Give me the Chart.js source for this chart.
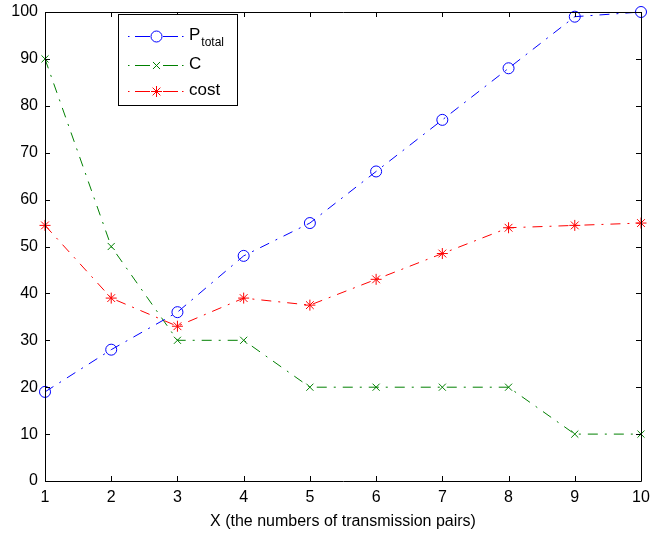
<!DOCTYPE html>
<html>
<head>
<meta charset="utf-8">
<script src="https://cdn.jsdelivr.net/npm/chart.js@4/dist/chart.umd.min.js"></script>
<style>
  html, body { margin: 0; padding: 0; background: #fff; }
  #wrap { width: 653px; height: 536px; }
</style>
</head>
<body>
<div id="wrap"><canvas id="c" width="653" height="536"></canvas></div>
<script>
// Number of transmission pairs
const pairs = [1, 2, 3, 4, 5, 6, 7, 8, 9, 10];
// Series values
const pTotal = [19, 28, 36, 48, 55, 66, 77, 88, 99, 100];
const cValues = [90, 50, 30, 30, 20, 20, 20, 20, 10, 10];
const costValues = [54.5, 39, 33, 39, 37.5, 43, 48.5, 54, 54.5, 55];
// Axis tick values
const xTicks = [1, 2, 3, 4, 5, 6, 7, 8, 9, 10];
const yTicks = [0, 10, 20, 30, 40, 50, 60, 70, 80, 90, 100];

const FONT = '"Liberation Sans", Arial, Helvetica, sans-serif';
const DASH_DOT = [10, 7, 2, 7];

const toPoints = vals => pairs.map((x, i) => ({ x, y: vals[i] }));

const series = [
  { label: 'P', sub: 'total', data: toPoints(pTotal), color: '#0000ff', style: 'circle', radius: 5.5 },
  { label: 'C', sub: '', data: toPoints(cValues), color: '#008000', style: 'crossRot', radius: 5 },
  { label: 'cost', sub: '', data: toPoints(costValues), color: '#ff0000', style: 'star', radius: 5.5 }
];

// Box around the axes with inward-pointing ticks on all four sides
const boxTicks = {
  id: 'boxTicks',
  afterDatasetsDraw(chart) {
    const { ctx, chartArea: a, scales: { x, y } } = chart;
    ctx.save();
    ctx.strokeStyle = '#000';
    ctx.lineWidth = 1;
    ctx.setLineDash([]);
    ctx.beginPath();
    ctx.rect(Math.round(a.left) + 0.5, Math.round(a.top) + 0.5,
             Math.round(a.right - a.left), Math.round(a.bottom - a.top));
    ctx.stroke();
    const tl = 5;
    ctx.beginPath();
    xTicks.forEach(v => {
      const px = Math.round(x.getPixelForValue(v)) + 0.5;
      ctx.moveTo(px, a.bottom); ctx.lineTo(px, a.bottom - tl);
      ctx.moveTo(px, a.top); ctx.lineTo(px, a.top + tl);
    });
    yTicks.forEach(v => {
      const py = Math.round(y.getPixelForValue(v)) + 0.5;
      ctx.moveTo(a.left, py); ctx.lineTo(a.left + tl, py);
      ctx.moveTo(a.right, py); ctx.lineTo(a.right - tl, py);
    });
    ctx.stroke();
    ctx.restore();
  }
};

// Boxed legend with line samples, markers and a subscripted label
const boxLegend = {
  id: 'boxLegend',
  afterDraw(chart) {
    const { ctx } = chart;
    const bx = 118.5, by = 14.5, bw = 119, bh = 91;
    ctx.save();
    ctx.fillStyle = '#fff';
    ctx.fillRect(bx, by, bw, bh);
    ctx.strokeStyle = '#000';
    ctx.lineWidth = 1;
    ctx.setLineDash([]);
    ctx.strokeRect(bx, by, bw, bh);
    const rows = [36, 65, 91];
    chart.data.datasets.forEach((ds, i) => {
      const yy = rows[i] + 0.5;
      ctx.strokeStyle = ds.borderColor;
      ctx.lineWidth = 1;
      // dot - dash - marker - dash - dot
      ctx.beginPath();
      ctx.moveTo(128, yy); ctx.lineTo(129.5, yy);
      ctx.moveTo(135, yy); ctx.lineTo(150, yy);
      ctx.moveTo(163, yy); ctx.lineTo(178, yy);
      ctx.moveTo(182, yy); ctx.lineTo(183.5, yy);
      ctx.stroke();
      Chart.helpers.drawPoint(ctx, {
        pointStyle: ds.pointStyle, radius: ds.pointRadius, borderWidth: 1, rotation: 0
      }, 156.5, yy);
      ctx.fillStyle = '#000';
      ctx.font = '17px ' + FONT;
      ctx.textBaseline = 'middle';
      ctx.textAlign = 'left';
      const s = series[i];
      ctx.fillText(s.label, 189, rows[i] - 1);
      if (s.sub) {
        const w = ctx.measureText(s.label).width;
        ctx.font = '12px ' + FONT;
        ctx.fillText(s.sub, 189 + w + 1, rows[i] + 7);
      }
    });
    ctx.restore();
  }
};

new Chart(document.getElementById('c'), {
  type: 'line',
  data: {
    datasets: series.map(s => ({
      label: s.label + s.sub,
      data: s.data,
      borderColor: s.color,
      backgroundColor: 'transparent',
      borderWidth: 1,
      borderDash: DASH_DOT,
      pointStyle: s.style,
      pointRadius: s.radius,
      pointBorderColor: s.color,
      pointBackgroundColor: 'transparent',
      pointBorderWidth: 1,
      tension: 0,
      fill: false,
      clip: false
    }))
  },
  options: {
    responsive: false,
    animation: false,
    layout: { padding: { left: 0, right: 12, top: 12, bottom: 0 } },
    plugins: { legend: { display: false }, tooltip: { enabled: false } },
    scales: {
      x: {
        type: 'linear',
        min: 1, max: 10,
        afterFit(scale) {
          scale.height = 55;
          scale.paddingLeft = 0;
          scale.paddingRight = 0;
        },
        afterBuildTicks(scale) { scale.ticks = xTicks.map(v => ({ value: v })); },
        grid: { display: false, drawTicks: false },
        border: { display: false },
        ticks: { color: '#000', font: { family: FONT, size: 16 }, padding: 7, maxRotation: 0 },
        title: {
          display: true,
          text: 'X (the numbers of transmission pairs)',
          color: '#000',
          font: { family: FONT, size: 16 },
          padding: { top: 1, bottom: 5 }
        }
      },
      y: {
        type: 'linear',
        min: 0, max: 100,
        afterFit(scale) {
          scale.width = 45;
          scale.paddingTop = 0;
          scale.paddingBottom = 0;
        },
        afterBuildTicks(scale) { scale.ticks = yTicks.map(v => ({ value: v })); },
        grid: { display: false, drawTicks: false },
        border: { display: false },
        ticks: { color: '#000', font: { family: FONT, size: 16 }, padding: 7 }
      }
    }
  },
  plugins: [boxTicks, boxLegend]
});
</script>
</body>
</html>
